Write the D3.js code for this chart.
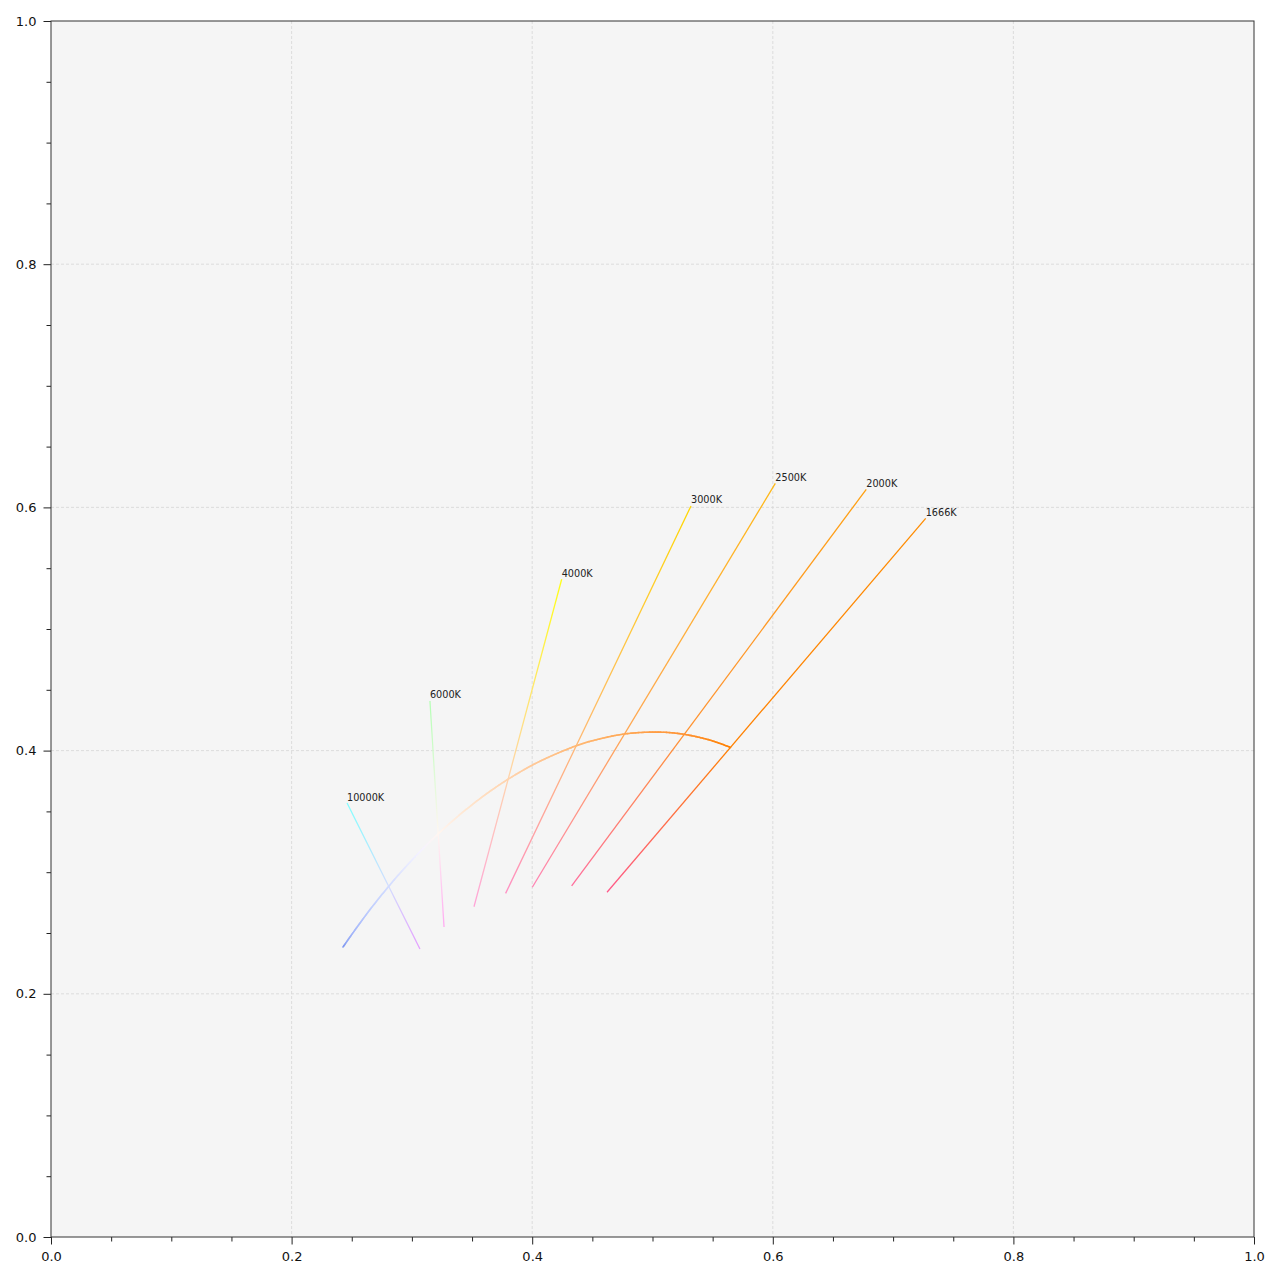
<!DOCTYPE html>
<html>
<head>
<meta charset="utf-8">
<style>
  body { margin: 0; background: #fff; }
  svg text { font-family: "DejaVu Sans", sans-serif; }
  .grid line { stroke: #d6d6d6; stroke-width: 0.8px; stroke-dasharray: 3,2; }
  .axis path.domain { display: none; }
  .axis line { stroke: #222; stroke-width: 1px; }
  .axis text { font-size: 13px; fill: #111; }
  .frame { fill: none; stroke: #333; stroke-width: 1px; }
  .iso { fill: none; stroke-width: 1.3px; }
  .locus { fill: none; stroke-width: 1.6px; stroke-linecap: round; }
  .label { font-size: 9.7px; fill: #222; }
</style>
</head>
<body>
<div id="chart"></div>
<script src="https://d3js.org/d3.v7.min.js"></script>
<script>
  // isotemperature lines (CIE 1931 xy)
  var isoTemps  = [1666, 2000, 2500, 3000, 4000, 6000, 10000];
  var isoLabels = ["1666K", "2000K", "2500K", "3000K", "4000K", "6000K", "10000K"];
  var isoBottomX = [0.4622, 0.4328, 0.4001, 0.3779, 0.3516, 0.3267, 0.3067];
  var isoBottomY = [0.2835, 0.2887, 0.2876, 0.2826, 0.2716, 0.2549, 0.2368];
  var isoTopX    = [0.7271, 0.6777, 0.6021, 0.5320, 0.4245, 0.3150, 0.2461];
  var isoTopY    = [0.5910, 0.6149, 0.6198, 0.6012, 0.5409, 0.4408, 0.3569];

  // planckian locus
  var locusT = [1666, 1800, 2000, 2200, 2500, 2800, 3000, 3500, 4000, 4500, 5000, 5500,
                6000, 6500, 7000, 8000, 9000, 10000, 12000, 15000, 20000, 30000, 50000, 100000];
  var locusX = [0.5648, 0.5496, 0.5267, 0.5056, 0.4770, 0.4520, 0.4369, 0.4053, 0.3805, 0.3608, 0.3451, 0.3325,
                0.3221, 0.3135, 0.3064, 0.2952, 0.2869, 0.2807, 0.2718, 0.2637, 0.2565, 0.2501, 0.2455, 0.2427];
  var locusY = [0.4026, 0.4081, 0.4133, 0.4152, 0.4137, 0.4086, 0.4041, 0.3907, 0.3768, 0.3636, 0.3516, 0.3411,
                0.3318, 0.3237, 0.3166, 0.3048, 0.2956, 0.2883, 0.2776, 0.2673, 0.2577, 0.2489, 0.2424, 0.2385];

  var majorTicks = [0, 0.2, 0.4, 0.6, 0.8, 1.0];

  // colour stops by temperature (styling)
  var locusColorT = [1666, 2000, 2500, 3000, 4000, 5000, 6000, 7000, 10000, 20000, 100000];
  var locusColors = ["#ff8000", "#ff9232", "#ffa754", "#ffb874", "#ffd3ad", "#ffe6d0",
                     "#fff6f0", "#f4f2ff", "#d2dcff", "#b0c0fc", "#7f98f0"];
  var topColors    = ["#ff8c00", "#ffa010", "#ffb814", "#ffd700", "#ffff14", "#b4ffb4", "#80ffff"];
  var bottomColors = ["#ff5a8c", "#ff6e9e", "#ff82b4", "#ff90c4", "#ffa4d8", "#ffaaf2", "#e49cff"];

  var W = 1280, H = 1280;
  var margin = { top: 21, right: 26, bottom: 43, left: 51 };
  var width = W - margin.left - margin.right,
      height = H - margin.top - margin.bottom;

  var svg = d3.select("#chart").append("svg")
      .attr("width", W)
      .attr("height", H)
    .append("g")
      .attr("transform", "translate(" + margin.left + "," + margin.top + ")");

  var xScale = d3.scaleLinear().domain([0, 1]).range([0, width]);
  var yScale = d3.scaleLinear().domain([0, 1]).range([height, 0]);

  var locusColor = d3.scaleLog().domain(locusColorT).range(locusColors)
      .interpolate(d3.interpolateRgb).clamp(true);

  svg.append("rect")
      .attr("width", width)
      .attr("height", height)
      .attr("fill", "#f5f5f5");

  // grid
  var grid = svg.append("g").attr("class", "grid");
  grid.selectAll(".gx").data(majorTicks.slice(1, -1)).enter().append("line")
      .attr("x1", function(d) { return xScale(d); })
      .attr("x2", function(d) { return xScale(d); })
      .attr("y1", 0).attr("y2", height);
  grid.selectAll(".gy").data(majorTicks.slice(1, -1)).enter().append("line")
      .attr("y1", function(d) { return yScale(d); })
      .attr("y2", function(d) { return yScale(d); })
      .attr("x1", 0).attr("x2", width);

  // isotemperature lines, gradient bottom -> locus colour -> top
  var defs = svg.append("defs");
  isoTemps.forEach(function(T, i) {
    var bx = xScale(isoBottomX[i]), by = yScale(isoBottomY[i]),
        ex = xScale(isoTopX[i]),    ey = yScale(isoTopY[i]);
    var k = locusT.indexOf(T);
    var px = xScale(locusX[k]), py = yScale(locusY[k]);
    var dx = ex - bx, dy = ey - by;
    var t = ((px - bx) * dx + (py - by) * dy) / (dx * dx + dy * dy);

    var g = defs.append("linearGradient")
        .attr("id", "iso" + i)
        .attr("gradientUnits", "userSpaceOnUse")
        .attr("x1", bx).attr("y1", by).attr("x2", ex).attr("y2", ey);
    g.append("stop").attr("offset", 0).attr("stop-color", bottomColors[i]);
    g.append("stop").attr("offset", t).attr("stop-color", locusColor(T));
    g.append("stop").attr("offset", 1).attr("stop-color", topColors[i]);

    svg.append("line")
        .attr("class", "iso")
        .attr("x1", bx).attr("y1", by).attr("x2", ex).attr("y2", ey)
        .attr("stroke", "url(#iso" + i + ")");

    svg.append("text")
        .attr("class", "label")
        .attr("x", ex)
        .attr("y", ey - 2.5)
        .text(isoLabels[i]);
  });

  // locus: smooth path, split into short coloured pieces
  var locusPts = locusX.map(function(x, i) { return [xScale(x), yScale(locusY[i])]; });
  var line = d3.line().curve(d3.curveCatmullRom);
  var guide = svg.append("path").attr("d", line(locusPts)).attr("fill", "none").attr("stroke", "none");
  var len = guide.node().getTotalLength();
  var colorAtX = d3.scaleLinear()
      .domain(locusX)
      .range(locusT.map(function(T) { return locusColor(T); }))
      .interpolate(d3.interpolateRgb);
  var n = 300, samples = [];
  for (var s = 0; s <= n; s++) {
    var p = guide.node().getPointAtLength(len * s / n);
    samples.push([p.x, p.y]);
  }
  var lg = svg.append("g");
  for (var j = 0; j < n; j++) {
    var a = samples[j], b = samples[j + 1];
    lg.append("line")
        .attr("class", "locus")
        .attr("x1", a[0]).attr("y1", a[1]).attr("x2", b[0]).attr("y2", b[1])
        .attr("stroke", colorAtX(xScale.invert((a[0] + b[0]) / 2)));
  }

  // axes
  var minorTicks = d3.range(0, 21).map(function(d) { return d * 0.05; })
      .filter(function(d, i) { return i % 4 !== 0; });

  svg.append("g").attr("class", "axis")
      .attr("transform", "translate(0," + height + ")")
      .call(d3.axisBottom(xScale).tickValues(majorTicks).tickFormat(d3.format(".1f"))
            .tickSize(7.5).tickPadding(7));
  svg.append("g").attr("class", "axis")
      .attr("transform", "translate(0," + height + ")")
      .call(d3.axisBottom(xScale).tickValues(minorTicks).tickFormat("").tickSize(4.5));
  svg.append("g").attr("class", "axis")
      .call(d3.axisLeft(yScale).tickValues(majorTicks).tickFormat(d3.format(".1f"))
            .tickSize(7.5).tickPadding(7));
  svg.append("g").attr("class", "axis")
      .call(d3.axisLeft(yScale).tickValues(minorTicks).tickFormat("").tickSize(4.5));

  svg.append("rect")
      .attr("class", "frame")
      .attr("width", width)
      .attr("height", height);
</script>
</body>
</html>
